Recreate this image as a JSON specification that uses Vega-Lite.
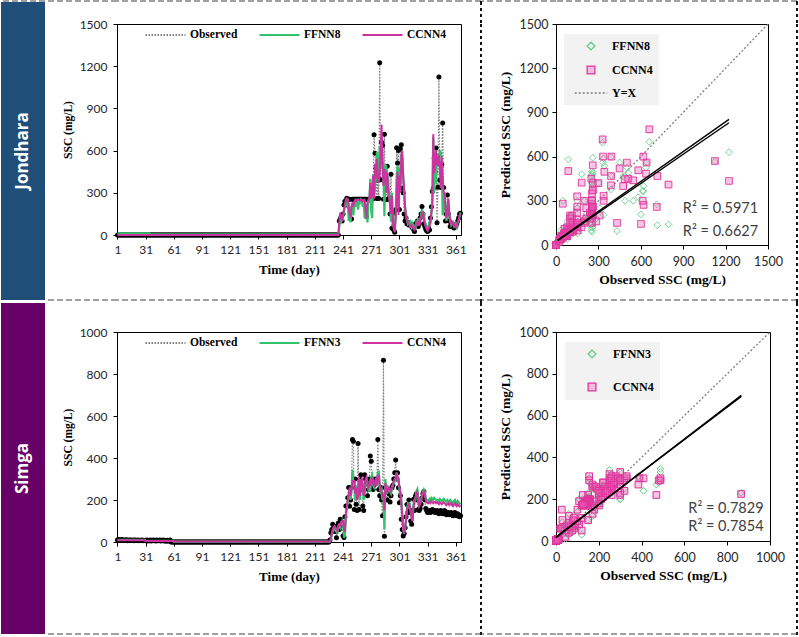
{
"$schema": "https://vega.github.io/schema/vega-lite/v6.json",
"padding": 0,
"background": "white",
"config": {
  "view": {"stroke": null},
  "axis": {"grid": false, "domainColor": "#000", "domainWidth": 1, "tickColor": "#000", "tickSize": 4, "labelFont": "Lato", "labelFontSize": 12, "labelColor": "#262626", "titleFont": "Liberation Serif", "titleFontWeight": "bold", "titleColor": "#000", "format": "d", "labelFlush": false, "labelOverlap": false}
},
"datasets": {
"yx1500": [{"x":0,"y":0},{"x":1500,"y":1500}],
"yx1000": [{"x":0,"y":0},{"x":1000,"y":1000}],
"jonTrend": [{"model":"FFNN8","x":12,"y":30},{"model":"FFNN8","x":1224,"y":830},{"model":"CCNN4","x":12,"y":34},{"model":"CCNN4","x":1224,"y":853}],
"simTrend": [{"model":"FFNN3","x":0,"y":20},{"model":"FFNN3","x":866,"y":692},{"model":"CCNN4","x":0,"y":16},{"model":"CCNN4","x":866,"y":697}],
"jon": [
{"day":1,"Observed":0,"FFNN8":12,"CCNN4":0},{"day":2,"Observed":0,"FFNN8":12,"CCNN4":0},{"day":3,"Observed":0,"FFNN8":12,"CCNN4":0},{"day":4,"Observed":0,"FFNN8":12,"CCNN4":0},{"day":5,"Observed":0,"FFNN8":12,"CCNN4":0},
{"day":6,"Observed":0,"FFNN8":12,"CCNN4":0},{"day":7,"Observed":0,"FFNN8":12,"CCNN4":0},{"day":8,"Observed":0,"FFNN8":12,"CCNN4":0},{"day":9,"Observed":0,"FFNN8":12,"CCNN4":0},{"day":10,"Observed":0,"FFNN8":12,"CCNN4":0},
{"day":11,"Observed":0,"FFNN8":12,"CCNN4":0},{"day":12,"Observed":0,"FFNN8":12,"CCNN4":0},{"day":13,"Observed":0,"FFNN8":12,"CCNN4":0},{"day":14,"Observed":0,"FFNN8":12,"CCNN4":0},{"day":15,"Observed":0,"FFNN8":12,"CCNN4":0},
{"day":16,"Observed":0,"FFNN8":12,"CCNN4":0},{"day":17,"Observed":0,"FFNN8":12,"CCNN4":0},{"day":18,"Observed":0,"FFNN8":12,"CCNN4":0},{"day":19,"Observed":0,"FFNN8":12,"CCNN4":0},{"day":20,"Observed":0,"FFNN8":12,"CCNN4":0},
{"day":21,"Observed":0,"FFNN8":12,"CCNN4":0},{"day":22,"Observed":0,"FFNN8":12,"CCNN4":0},{"day":23,"Observed":0,"FFNN8":12,"CCNN4":0},{"day":24,"Observed":0,"FFNN8":12,"CCNN4":0},{"day":25,"Observed":0,"FFNN8":12,"CCNN4":0},
{"day":26,"Observed":0,"FFNN8":12,"CCNN4":0},{"day":27,"Observed":0,"FFNN8":12,"CCNN4":0},{"day":28,"Observed":0,"FFNN8":12,"CCNN4":0},{"day":29,"Observed":0,"FFNN8":12,"CCNN4":0},{"day":30,"Observed":0,"FFNN8":12,"CCNN4":0},
{"day":31,"Observed":0,"FFNN8":12,"CCNN4":0},{"day":32,"Observed":0,"FFNN8":12,"CCNN4":0},{"day":33,"Observed":0,"FFNN8":12,"CCNN4":0},{"day":34,"Observed":0,"FFNN8":12,"CCNN4":0},{"day":35,"Observed":0,"FFNN8":12,"CCNN4":0},
{"day":36,"Observed":0,"FFNN8":4,"CCNN4":0},{"day":37,"Observed":0,"FFNN8":4,"CCNN4":0},{"day":38,"Observed":0,"FFNN8":4,"CCNN4":0},{"day":39,"Observed":0,"FFNN8":4,"CCNN4":0},{"day":40,"Observed":0,"FFNN8":4,"CCNN4":0},
{"day":41,"Observed":0,"FFNN8":4,"CCNN4":0},{"day":42,"Observed":0,"FFNN8":4,"CCNN4":0},{"day":43,"Observed":0,"FFNN8":4,"CCNN4":0},{"day":44,"Observed":0,"FFNN8":4,"CCNN4":0},{"day":45,"Observed":0,"FFNN8":4,"CCNN4":0},
{"day":46,"Observed":0,"FFNN8":4,"CCNN4":0},{"day":47,"Observed":0,"FFNN8":4,"CCNN4":0},{"day":48,"Observed":0,"FFNN8":4,"CCNN4":0},{"day":49,"Observed":0,"FFNN8":4,"CCNN4":0},{"day":50,"Observed":0,"FFNN8":4,"CCNN4":0},
{"day":51,"Observed":0,"FFNN8":4,"CCNN4":0},{"day":52,"Observed":0,"FFNN8":4,"CCNN4":0},{"day":53,"Observed":0,"FFNN8":4,"CCNN4":0},{"day":54,"Observed":0,"FFNN8":4,"CCNN4":0},{"day":55,"Observed":0,"FFNN8":4,"CCNN4":0},
{"day":56,"Observed":0,"FFNN8":4,"CCNN4":0},{"day":57,"Observed":0,"FFNN8":4,"CCNN4":0},{"day":58,"Observed":0,"FFNN8":4,"CCNN4":0},{"day":59,"Observed":0,"FFNN8":4,"CCNN4":0},{"day":60,"Observed":0,"FFNN8":4,"CCNN4":0},
{"day":61,"Observed":0,"FFNN8":4,"CCNN4":0},{"day":62,"Observed":0,"FFNN8":4,"CCNN4":0},{"day":63,"Observed":0,"FFNN8":4,"CCNN4":0},{"day":64,"Observed":0,"FFNN8":4,"CCNN4":0},{"day":65,"Observed":0,"FFNN8":4,"CCNN4":0},
{"day":66,"Observed":0,"FFNN8":4,"CCNN4":0},{"day":67,"Observed":0,"FFNN8":4,"CCNN4":0},{"day":68,"Observed":0,"FFNN8":4,"CCNN4":0},{"day":69,"Observed":0,"FFNN8":4,"CCNN4":0},{"day":70,"Observed":0,"FFNN8":4,"CCNN4":0},
{"day":71,"Observed":0,"FFNN8":4,"CCNN4":0},{"day":72,"Observed":0,"FFNN8":4,"CCNN4":0},{"day":73,"Observed":0,"FFNN8":4,"CCNN4":0},{"day":74,"Observed":0,"FFNN8":4,"CCNN4":0},{"day":75,"Observed":0,"FFNN8":4,"CCNN4":0},
{"day":76,"Observed":0,"FFNN8":4,"CCNN4":0},{"day":77,"Observed":0,"FFNN8":4,"CCNN4":0},{"day":78,"Observed":0,"FFNN8":4,"CCNN4":0},{"day":79,"Observed":0,"FFNN8":4,"CCNN4":0},{"day":80,"Observed":0,"FFNN8":4,"CCNN4":0},
{"day":81,"Observed":0,"FFNN8":4,"CCNN4":0},{"day":82,"Observed":0,"FFNN8":4,"CCNN4":0},{"day":83,"Observed":0,"FFNN8":4,"CCNN4":0},{"day":84,"Observed":0,"FFNN8":4,"CCNN4":0},{"day":85,"Observed":0,"FFNN8":4,"CCNN4":0},
{"day":86,"Observed":0,"FFNN8":4,"CCNN4":0},{"day":87,"Observed":0,"FFNN8":4,"CCNN4":0},{"day":88,"Observed":0,"FFNN8":4,"CCNN4":0},{"day":89,"Observed":0,"FFNN8":4,"CCNN4":0},{"day":90,"Observed":0,"FFNN8":4,"CCNN4":0},
{"day":91,"Observed":0,"FFNN8":4,"CCNN4":0},{"day":92,"Observed":0,"FFNN8":4,"CCNN4":0},{"day":93,"Observed":0,"FFNN8":4,"CCNN4":0},{"day":94,"Observed":0,"FFNN8":4,"CCNN4":0},{"day":95,"Observed":0,"FFNN8":4,"CCNN4":0},
{"day":96,"Observed":0,"FFNN8":4,"CCNN4":0},{"day":97,"Observed":0,"FFNN8":4,"CCNN4":0},{"day":98,"Observed":0,"FFNN8":4,"CCNN4":0},{"day":99,"Observed":0,"FFNN8":4,"CCNN4":0},{"day":100,"Observed":0,"FFNN8":4,"CCNN4":0},
{"day":101,"Observed":0,"FFNN8":4,"CCNN4":0},{"day":102,"Observed":0,"FFNN8":4,"CCNN4":0},{"day":103,"Observed":0,"FFNN8":4,"CCNN4":0},{"day":104,"Observed":0,"FFNN8":4,"CCNN4":0},{"day":105,"Observed":0,"FFNN8":4,"CCNN4":0},
{"day":106,"Observed":0,"FFNN8":4,"CCNN4":0},{"day":107,"Observed":0,"FFNN8":4,"CCNN4":0},{"day":108,"Observed":0,"FFNN8":4,"CCNN4":0},{"day":109,"Observed":0,"FFNN8":4,"CCNN4":0},{"day":110,"Observed":0,"FFNN8":4,"CCNN4":0},
{"day":111,"Observed":0,"FFNN8":4,"CCNN4":0},{"day":112,"Observed":0,"FFNN8":4,"CCNN4":0},{"day":113,"Observed":0,"FFNN8":4,"CCNN4":0},{"day":114,"Observed":0,"FFNN8":4,"CCNN4":0},{"day":115,"Observed":0,"FFNN8":4,"CCNN4":0},
{"day":116,"Observed":0,"FFNN8":4,"CCNN4":0},{"day":117,"Observed":0,"FFNN8":4,"CCNN4":0},{"day":118,"Observed":0,"FFNN8":4,"CCNN4":0},{"day":119,"Observed":0,"FFNN8":4,"CCNN4":0},{"day":120,"Observed":0,"FFNN8":4,"CCNN4":0},
{"day":121,"Observed":0,"FFNN8":4,"CCNN4":0},{"day":122,"Observed":0,"FFNN8":4,"CCNN4":0},{"day":123,"Observed":0,"FFNN8":4,"CCNN4":0},{"day":124,"Observed":0,"FFNN8":4,"CCNN4":0},{"day":125,"Observed":0,"FFNN8":4,"CCNN4":0},
{"day":126,"Observed":0,"FFNN8":4,"CCNN4":0},{"day":127,"Observed":0,"FFNN8":4,"CCNN4":0},{"day":128,"Observed":0,"FFNN8":4,"CCNN4":0},{"day":129,"Observed":0,"FFNN8":4,"CCNN4":0},{"day":130,"Observed":0,"FFNN8":4,"CCNN4":0},
{"day":131,"Observed":0,"FFNN8":4,"CCNN4":0},{"day":132,"Observed":0,"FFNN8":4,"CCNN4":0},{"day":133,"Observed":0,"FFNN8":4,"CCNN4":0},{"day":134,"Observed":0,"FFNN8":4,"CCNN4":0},{"day":135,"Observed":0,"FFNN8":4,"CCNN4":0},
{"day":136,"Observed":0,"FFNN8":4,"CCNN4":0},{"day":137,"Observed":0,"FFNN8":4,"CCNN4":0},{"day":138,"Observed":0,"FFNN8":4,"CCNN4":0},{"day":139,"Observed":0,"FFNN8":4,"CCNN4":0},{"day":140,"Observed":0,"FFNN8":4,"CCNN4":0},
{"day":141,"Observed":0,"FFNN8":4,"CCNN4":0},{"day":142,"Observed":0,"FFNN8":4,"CCNN4":0},{"day":143,"Observed":0,"FFNN8":4,"CCNN4":0},{"day":144,"Observed":0,"FFNN8":4,"CCNN4":0},{"day":145,"Observed":0,"FFNN8":4,"CCNN4":0},
{"day":146,"Observed":0,"FFNN8":4,"CCNN4":0},{"day":147,"Observed":0,"FFNN8":4,"CCNN4":0},{"day":148,"Observed":0,"FFNN8":4,"CCNN4":0},{"day":149,"Observed":0,"FFNN8":4,"CCNN4":0},{"day":150,"Observed":0,"FFNN8":4,"CCNN4":0},
{"day":151,"Observed":0,"FFNN8":4,"CCNN4":0},{"day":152,"Observed":0,"FFNN8":4,"CCNN4":0},{"day":153,"Observed":0,"FFNN8":4,"CCNN4":0},{"day":154,"Observed":0,"FFNN8":4,"CCNN4":0},{"day":155,"Observed":0,"FFNN8":4,"CCNN4":0},
{"day":156,"Observed":0,"FFNN8":4,"CCNN4":0},{"day":157,"Observed":0,"FFNN8":4,"CCNN4":0},{"day":158,"Observed":0,"FFNN8":4,"CCNN4":0},{"day":159,"Observed":0,"FFNN8":4,"CCNN4":0},{"day":160,"Observed":0,"FFNN8":4,"CCNN4":0},
{"day":161,"Observed":0,"FFNN8":4,"CCNN4":0},{"day":162,"Observed":0,"FFNN8":4,"CCNN4":0},{"day":163,"Observed":0,"FFNN8":4,"CCNN4":0},{"day":164,"Observed":0,"FFNN8":4,"CCNN4":0},{"day":165,"Observed":0,"FFNN8":4,"CCNN4":0},
{"day":166,"Observed":0,"FFNN8":4,"CCNN4":0},{"day":167,"Observed":0,"FFNN8":4,"CCNN4":0},{"day":168,"Observed":0,"FFNN8":4,"CCNN4":0},{"day":169,"Observed":0,"FFNN8":4,"CCNN4":0},{"day":170,"Observed":0,"FFNN8":4,"CCNN4":0},
{"day":171,"Observed":0,"FFNN8":4,"CCNN4":0},{"day":172,"Observed":0,"FFNN8":4,"CCNN4":0},{"day":173,"Observed":0,"FFNN8":4,"CCNN4":0},{"day":174,"Observed":0,"FFNN8":4,"CCNN4":0},{"day":175,"Observed":0,"FFNN8":4,"CCNN4":0},
{"day":176,"Observed":0,"FFNN8":4,"CCNN4":0},{"day":177,"Observed":0,"FFNN8":4,"CCNN4":0},{"day":178,"Observed":0,"FFNN8":4,"CCNN4":0},{"day":179,"Observed":0,"FFNN8":4,"CCNN4":0},{"day":180,"Observed":0,"FFNN8":4,"CCNN4":0},
{"day":181,"Observed":0,"FFNN8":4,"CCNN4":0},{"day":182,"Observed":0,"FFNN8":4,"CCNN4":0},{"day":183,"Observed":0,"FFNN8":4,"CCNN4":0},{"day":184,"Observed":0,"FFNN8":4,"CCNN4":0},{"day":185,"Observed":0,"FFNN8":4,"CCNN4":0},
{"day":186,"Observed":0,"FFNN8":4,"CCNN4":0},{"day":187,"Observed":0,"FFNN8":4,"CCNN4":0},{"day":188,"Observed":0,"FFNN8":4,"CCNN4":0},{"day":189,"Observed":0,"FFNN8":4,"CCNN4":0},{"day":190,"Observed":0,"FFNN8":4,"CCNN4":0},
{"day":191,"Observed":0,"FFNN8":4,"CCNN4":0},{"day":192,"Observed":0,"FFNN8":4,"CCNN4":0},{"day":193,"Observed":0,"FFNN8":4,"CCNN4":0},{"day":194,"Observed":0,"FFNN8":4,"CCNN4":0},{"day":195,"Observed":0,"FFNN8":4,"CCNN4":0},
{"day":196,"Observed":0,"FFNN8":4,"CCNN4":0},{"day":197,"Observed":0,"FFNN8":4,"CCNN4":0},{"day":198,"Observed":0,"FFNN8":4,"CCNN4":0},{"day":199,"Observed":0,"FFNN8":4,"CCNN4":0},{"day":200,"Observed":0,"FFNN8":4,"CCNN4":0},
{"day":201,"Observed":0,"FFNN8":4,"CCNN4":0},{"day":202,"Observed":0,"FFNN8":4,"CCNN4":0},{"day":203,"Observed":0,"FFNN8":4,"CCNN4":0},{"day":204,"Observed":0,"FFNN8":4,"CCNN4":0},{"day":205,"Observed":0,"FFNN8":4,"CCNN4":0},
{"day":206,"Observed":0,"FFNN8":4,"CCNN4":0},{"day":207,"Observed":0,"FFNN8":4,"CCNN4":0},{"day":208,"Observed":0,"FFNN8":4,"CCNN4":0},{"day":209,"Observed":0,"FFNN8":4,"CCNN4":0},{"day":210,"Observed":0,"FFNN8":4,"CCNN4":0},
{"day":211,"Observed":0,"FFNN8":4,"CCNN4":0},{"day":212,"Observed":0,"FFNN8":4,"CCNN4":0},{"day":213,"Observed":0,"FFNN8":4,"CCNN4":0},{"day":214,"Observed":0,"FFNN8":4,"CCNN4":0},{"day":215,"Observed":0,"FFNN8":4,"CCNN4":0},
{"day":216,"Observed":0,"FFNN8":4,"CCNN4":0},{"day":217,"Observed":0,"FFNN8":4,"CCNN4":0},{"day":218,"Observed":0,"FFNN8":4,"CCNN4":0},{"day":219,"Observed":0,"FFNN8":4,"CCNN4":0},{"day":220,"Observed":0,"FFNN8":4,"CCNN4":0},
{"day":221,"Observed":0,"FFNN8":4,"CCNN4":0},{"day":222,"Observed":0,"FFNN8":4,"CCNN4":0},{"day":223,"Observed":0,"FFNN8":4,"CCNN4":0},{"day":224,"Observed":0,"FFNN8":4,"CCNN4":0},{"day":225,"Observed":0,"FFNN8":4,"CCNN4":0},
{"day":226,"Observed":0,"FFNN8":4,"CCNN4":0},{"day":227,"Observed":0,"FFNN8":4,"CCNN4":0},{"day":228,"Observed":0,"FFNN8":4,"CCNN4":0},{"day":229,"Observed":0,"FFNN8":4,"CCNN4":0},{"day":230,"Observed":0,"FFNN8":4,"CCNN4":0},
{"day":231,"Observed":0,"FFNN8":4,"CCNN4":0},{"day":232,"Observed":0,"FFNN8":4,"CCNN4":0},{"day":233,"Observed":0,"FFNN8":4,"CCNN4":0},{"day":234,"Observed":0,"FFNN8":4,"CCNN4":0},{"day":235,"Observed":0,"FFNN8":4,"CCNN4":0},
{"day":236,"Observed":0,"FFNN8":4,"CCNN4":0},{"day":237,"Observed":100,"FFNN8":60,"CCNN4":90},{"day":238,"Observed":114,"FFNN8":110,"CCNN4":160},{"day":239,"Observed":130,"FFNN8":100,"CCNN4":120},{"day":240,"Observed":100,"FFNN8":130,"CCNN4":110},
{"day":241,"Observed":150,"FFNN8":120,"CCNN4":140},{"day":242,"Observed":214,"FFNN8":170,"CCNN4":180},{"day":243,"Observed":240,"FFNN8":200,"CCNN4":220},{"day":244,"Observed":214,"FFNN8":210,"CCNN4":250},{"day":245,"Observed":261,"FFNN8":230,"CCNN4":260},
{"day":246,"Observed":255,"FFNN8":240,"CCNN4":250},{"day":247,"Observed":250,"FFNN8":100,"CCNN4":210},{"day":248,"Observed":255,"FFNN8":180,"CCNN4":150},{"day":249,"Observed":114,"FFNN8":90,"CCNN4":120},{"day":250,"Observed":114,"FFNN8":200,"CCNN4":200},
{"day":251,"Observed":255,"FFNN8":220,"CCNN4":230},{"day":252,"Observed":255,"FFNN8":140,"CCNN4":200},{"day":253,"Observed":255,"FFNN8":230,"CCNN4":240},{"day":254,"Observed":255,"FFNN8":200,"CCNN4":250},{"day":255,"Observed":255,"FFNN8":230,"CCNN4":240},
{"day":256,"Observed":255,"FFNN8":240,"CCNN4":250},{"day":257,"Observed":255,"FFNN8":180,"CCNN4":250},{"day":258,"Observed":255,"FFNN8":240,"CCNN4":250},{"day":259,"Observed":255,"FFNN8":230,"CCNN4":245},{"day":260,"Observed":255,"FFNN8":250,"CCNN4":250},
{"day":261,"Observed":255,"FFNN8":240,"CCNN4":250},{"day":262,"Observed":255,"FFNN8":200,"CCNN4":240},{"day":263,"Observed":255,"FFNN8":230,"CCNN4":250},{"day":264,"Observed":255,"FFNN8":120,"CCNN4":250},{"day":265,"Observed":255,"FFNN8":150,"CCNN4":180},
{"day":266,"Observed":131,"FFNN8":140,"CCNN4":120},{"day":267,"Observed":255,"FFNN8":90,"CCNN4":230},{"day":268,"Observed":255,"FFNN8":250,"CCNN4":250},{"day":269,"Observed":255,"FFNN8":230,"CCNN4":260},{"day":270,"Observed":260,"FFNN8":400,"CCNN4":371},
{"day":271,"Observed":255,"FFNN8":170,"CCNN4":260},{"day":272,"Observed":255,"FFNN8":120,"CCNN4":280},{"day":273,"Observed":260,"FFNN8":434,"CCNN4":423},{"day":274,"Observed":713,"FFNN8":276,"CCNN4":258},{"day":275,"Observed":582,"FFNN8":325,"CCNN4":507},
{"day":276,"Observed":475,"FFNN8":468,"CCNN4":400},{"day":277,"Observed":260,"FFNN8":592,"CCNN4":541},{"day":278,"Observed":389,"FFNN8":378,"CCNN4":405},{"day":279,"Observed":260,"FFNN8":490,"CCNN4":371},{"day":280,"Observed":1224,"FFNN8":630,"CCNN4":435},
{"day":281,"Observed":392,"FFNN8":470,"CCNN4":600},{"day":282,"Observed":660,"FFNN8":700,"CCNN4":785},{"day":283,"Observed":637,"FFNN8":525,"CCNN4":484},{"day":284,"Observed":255,"FFNN8":480,"CCNN4":350},{"day":285,"Observed":717,"FFNN8":134,"CCNN4":468},
{"day":286,"Observed":250,"FFNN8":470,"CCNN4":450},{"day":287,"Observed":255,"FFNN8":500,"CCNN4":300},{"day":288,"Observed":488,"FFNN8":300,"CCNN4":446},{"day":289,"Observed":255,"FFNN8":420,"CCNN4":300},{"day":290,"Observed":261,"FFNN8":280,"CCNN4":260},
{"day":291,"Observed":150,"FFNN8":250,"CCNN4":220},{"day":292,"Observed":432,"FFNN8":95,"CCNN4":150},{"day":293,"Observed":48,"FFNN8":300,"CCNN4":280},{"day":294,"Observed":154,"FFNN8":80,"CCNN4":100},{"day":295,"Observed":36,"FFNN8":60,"CCNN4":40},
{"day":296,"Observed":20,"FFNN8":30,"CCNN4":20},{"day":297,"Observed":180,"FFNN8":150,"CCNN4":120},{"day":298,"Observed":620,"FFNN8":400,"CCNN4":272},{"day":299,"Observed":511,"FFNN8":490,"CCNN4":450},{"day":300,"Observed":601,"FFNN8":208,"CCNN4":143},
{"day":301,"Observed":182,"FFNN8":480,"CCNN4":423},{"day":302,"Observed":613,"FFNN8":366,"CCNN4":300},{"day":303,"Observed":641,"FFNN8":560,"CCNN4":560},{"day":304,"Observed":333,"FFNN8":560,"CCNN4":600},{"day":305,"Observed":300,"FFNN8":420,"CCNN4":420},
{"day":306,"Observed":150,"FFNN8":300,"CCNN4":330},{"day":307,"Observed":100,"FFNN8":200,"CCNN4":200},{"day":308,"Observed":120,"FFNN8":150,"CCNN4":140},{"day":309,"Observed":80,"FFNN8":110,"CCNN4":100},{"day":310,"Observed":90,"FFNN8":80,"CCNN4":90},
{"day":311,"Observed":71,"FFNN8":90,"CCNN4":80},{"day":312,"Observed":80,"FFNN8":70,"CCNN4":75},{"day":313,"Observed":70,"FFNN8":90,"CCNN4":60},{"day":314,"Observed":60,"FFNN8":60,"CCNN4":70},{"day":315,"Observed":50,"FFNN8":80,"CCNN4":60},
{"day":316,"Observed":40,"FFNN8":50,"CCNN4":50},{"day":317,"Observed":24,"FFNN8":60,"CCNN4":40},{"day":318,"Observed":80,"FFNN8":40,"CCNN4":60},{"day":319,"Observed":70,"FFNN8":90,"CCNN4":70},{"day":320,"Observed":100,"FFNN8":80,"CCNN4":90},
{"day":321,"Observed":60,"FFNN8":120,"CCNN4":80},{"day":322,"Observed":80,"FFNN8":70,"CCNN4":100},{"day":323,"Observed":120,"FFNN8":100,"CCNN4":90},{"day":324,"Observed":150,"FFNN8":140,"CCNN4":130},{"day":325,"Observed":202,"FFNN8":180,"CCNN4":150},
{"day":326,"Observed":150,"FFNN8":130,"CCNN4":170},{"day":327,"Observed":80,"FFNN8":160,"CCNN4":120},{"day":328,"Observed":60,"FFNN8":90,"CCNN4":80},{"day":329,"Observed":40,"FFNN8":70,"CCNN4":60},{"day":330,"Observed":30,"FFNN8":50,"CCNN4":40},
{"day":331,"Observed":24,"FFNN8":40,"CCNN4":30},{"day":332,"Observed":50,"FFNN8":60,"CCNN4":50},{"day":333,"Observed":36,"FFNN8":100,"CCNN4":60},{"day":334,"Observed":120,"FFNN8":80,"CCNN4":100},{"day":335,"Observed":200,"FFNN8":150,"CCNN4":160},
{"day":336,"Observed":309,"FFNN8":250,"CCNN4":200},{"day":337,"Observed":330,"FFNN8":694,"CCNN4":717},{"day":338,"Observed":546,"FFNN8":300,"CCNN4":439},{"day":339,"Observed":450,"FFNN8":560,"CCNN4":520},{"day":340,"Observed":618,"FFNN8":366,"CCNN4":600},
{"day":341,"Observed":87,"FFNN8":581,"CCNN4":502},{"day":342,"Observed":342,"FFNN8":536,"CCNN4":497},{"day":343,"Observed":1124,"FFNN8":565,"CCNN4":570},{"day":344,"Observed":389,"FFNN8":597,"CCNN4":468},{"day":345,"Observed":337,"FFNN8":588,"CCNN4":333},
{"day":346,"Observed":502,"FFNN8":525,"CCNN4":559},{"day":347,"Observed":796,"FFNN8":140,"CCNN4":410},{"day":348,"Observed":337,"FFNN8":205,"CCNN4":300},{"day":349,"Observed":200,"FFNN8":300,"CCNN4":300},{"day":350,"Observed":100,"FFNN8":200,"CCNN4":180},
{"day":351,"Observed":150,"FFNN8":100,"CCNN4":120},{"day":352,"Observed":285,"FFNN8":180,"CCNN4":160},{"day":353,"Observed":150,"FFNN8":250,"CCNN4":260},{"day":354,"Observed":100,"FFNN8":150,"CCNN4":150},{"day":355,"Observed":60,"FFNN8":100,"CCNN4":110},
{"day":356,"Observed":80,"FFNN8":70,"CCNN4":80},{"day":357,"Observed":83,"FFNN8":80,"CCNN4":90},{"day":358,"Observed":60,"FFNN8":90,"CCNN4":80},{"day":359,"Observed":50,"FFNN8":70,"CCNN4":60},{"day":360,"Observed":70,"FFNN8":60,"CCNN4":70},
{"day":361,"Observed":60,"FFNN8":80,"CCNN4":60},{"day":362,"Observed":80,"FFNN8":60,"CCNN4":80},{"day":363,"Observed":100,"FFNN8":90,"CCNN4":90},{"day":364,"Observed":120,"FFNN8":100,"CCNN4":110},{"day":365,"Observed":150,"FFNN8":130,"CCNN4":140},
{"day":366,"Observed":154,"FFNN8":160,"CCNN4":150}
],
"sim": [
{"day":1,"Observed":10,"FFNN3":10,"CCNN4":8},{"day":2,"Observed":12,"FFNN3":10,"CCNN4":8},{"day":3,"Observed":8,"FFNN3":10,"CCNN4":8},{"day":4,"Observed":11,"FFNN3":10,"CCNN4":8},{"day":5,"Observed":9,"FFNN3":10,"CCNN4":8},
{"day":6,"Observed":12,"FFNN3":10,"CCNN4":8},{"day":7,"Observed":7,"FFNN3":10,"CCNN4":8},{"day":8,"Observed":10,"FFNN3":10,"CCNN4":8},{"day":9,"Observed":8,"FFNN3":10,"CCNN4":8},{"day":10,"Observed":9,"FFNN3":10,"CCNN4":8},
{"day":11,"Observed":11,"FFNN3":10,"CCNN4":8},{"day":12,"Observed":6,"FFNN3":10,"CCNN4":8},{"day":13,"Observed":8,"FFNN3":10,"CCNN4":8},{"day":14,"Observed":10,"FFNN3":10,"CCNN4":8},{"day":15,"Observed":9,"FFNN3":10,"CCNN4":8},
{"day":16,"Observed":7,"FFNN3":10,"CCNN4":8},{"day":17,"Observed":8,"FFNN3":10,"CCNN4":8},{"day":18,"Observed":10,"FFNN3":10,"CCNN4":8},{"day":19,"Observed":6,"FFNN3":10,"CCNN4":8},{"day":20,"Observed":9,"FFNN3":10,"CCNN4":8},
{"day":21,"Observed":8,"FFNN3":10,"CCNN4":8},{"day":22,"Observed":7,"FFNN3":10,"CCNN4":8},{"day":23,"Observed":9,"FFNN3":10,"CCNN4":8},{"day":24,"Observed":6,"FFNN3":10,"CCNN4":8},{"day":25,"Observed":8,"FFNN3":10,"CCNN4":8},
{"day":26,"Observed":7,"FFNN3":10,"CCNN4":8},{"day":27,"Observed":9,"FFNN3":10,"CCNN4":8},{"day":28,"Observed":6,"FFNN3":10,"CCNN4":8},{"day":29,"Observed":8,"FFNN3":10,"CCNN4":8},{"day":30,"Observed":7,"FFNN3":10,"CCNN4":8},
{"day":31,"Observed":6,"FFNN3":6,"CCNN4":5},{"day":32,"Observed":9,"FFNN3":6,"CCNN4":5},{"day":33,"Observed":5,"FFNN3":6,"CCNN4":5},{"day":34,"Observed":8,"FFNN3":6,"CCNN4":5},{"day":35,"Observed":6,"FFNN3":6,"CCNN4":5},
{"day":36,"Observed":9,"FFNN3":6,"CCNN4":5},{"day":37,"Observed":5,"FFNN3":6,"CCNN4":5},{"day":38,"Observed":7,"FFNN3":6,"CCNN4":5},{"day":39,"Observed":10,"FFNN3":6,"CCNN4":5},{"day":40,"Observed":6,"FFNN3":6,"CCNN4":5},
{"day":41,"Observed":8,"FFNN3":6,"CCNN4":5},{"day":42,"Observed":5,"FFNN3":6,"CCNN4":5},{"day":43,"Observed":9,"FFNN3":6,"CCNN4":5},{"day":44,"Observed":6,"FFNN3":6,"CCNN4":5},{"day":45,"Observed":7,"FFNN3":6,"CCNN4":5},
{"day":46,"Observed":10,"FFNN3":6,"CCNN4":5},{"day":47,"Observed":5,"FFNN3":6,"CCNN4":5},{"day":48,"Observed":8,"FFNN3":6,"CCNN4":5},{"day":49,"Observed":6,"FFNN3":6,"CCNN4":5},{"day":50,"Observed":9,"FFNN3":6,"CCNN4":5},
{"day":51,"Observed":5,"FFNN3":6,"CCNN4":5},{"day":52,"Observed":7,"FFNN3":6,"CCNN4":5},{"day":53,"Observed":4,"FFNN3":6,"CCNN4":5},{"day":54,"Observed":8,"FFNN3":6,"CCNN4":5},{"day":55,"Observed":5,"FFNN3":6,"CCNN4":5},
{"day":56,"Observed":6,"FFNN3":6,"CCNN4":5},{"day":57,"Observed":9,"FFNN3":6,"CCNN4":5},{"day":58,"Observed":0,"FFNN3":6,"CCNN4":5},{"day":59,"Observed":0,"FFNN3":6,"CCNN4":5},{"day":60,"Observed":0,"FFNN3":6,"CCNN4":5},
{"day":61,"Observed":0,"FFNN3":2,"CCNN4":2},{"day":62,"Observed":0,"FFNN3":2,"CCNN4":2},{"day":63,"Observed":0,"FFNN3":2,"CCNN4":2},{"day":64,"Observed":0,"FFNN3":2,"CCNN4":2},{"day":65,"Observed":0,"FFNN3":2,"CCNN4":2},
{"day":66,"Observed":0,"FFNN3":2,"CCNN4":2},{"day":67,"Observed":0,"FFNN3":2,"CCNN4":2},{"day":68,"Observed":0,"FFNN3":2,"CCNN4":2},{"day":69,"Observed":0,"FFNN3":2,"CCNN4":2},{"day":70,"Observed":0,"FFNN3":2,"CCNN4":2},
{"day":71,"Observed":0,"FFNN3":2,"CCNN4":2},{"day":72,"Observed":0,"FFNN3":2,"CCNN4":2},{"day":73,"Observed":0,"FFNN3":2,"CCNN4":2},{"day":74,"Observed":0,"FFNN3":2,"CCNN4":2},{"day":75,"Observed":0,"FFNN3":2,"CCNN4":2},
{"day":76,"Observed":0,"FFNN3":2,"CCNN4":2},{"day":77,"Observed":0,"FFNN3":2,"CCNN4":2},{"day":78,"Observed":0,"FFNN3":2,"CCNN4":2},{"day":79,"Observed":0,"FFNN3":2,"CCNN4":2},{"day":80,"Observed":0,"FFNN3":2,"CCNN4":2},
{"day":81,"Observed":0,"FFNN3":2,"CCNN4":2},{"day":82,"Observed":0,"FFNN3":2,"CCNN4":2},{"day":83,"Observed":0,"FFNN3":2,"CCNN4":2},{"day":84,"Observed":0,"FFNN3":2,"CCNN4":2},{"day":85,"Observed":0,"FFNN3":2,"CCNN4":2},
{"day":86,"Observed":0,"FFNN3":2,"CCNN4":2},{"day":87,"Observed":0,"FFNN3":2,"CCNN4":2},{"day":88,"Observed":0,"FFNN3":2,"CCNN4":2},{"day":89,"Observed":0,"FFNN3":2,"CCNN4":2},{"day":90,"Observed":0,"FFNN3":2,"CCNN4":2},
{"day":91,"Observed":0,"FFNN3":2,"CCNN4":2},{"day":92,"Observed":0,"FFNN3":2,"CCNN4":2},{"day":93,"Observed":0,"FFNN3":2,"CCNN4":2},{"day":94,"Observed":0,"FFNN3":2,"CCNN4":2},{"day":95,"Observed":0,"FFNN3":2,"CCNN4":2},
{"day":96,"Observed":0,"FFNN3":2,"CCNN4":2},{"day":97,"Observed":0,"FFNN3":2,"CCNN4":2},{"day":98,"Observed":0,"FFNN3":2,"CCNN4":2},{"day":99,"Observed":0,"FFNN3":2,"CCNN4":2},{"day":100,"Observed":0,"FFNN3":2,"CCNN4":2},
{"day":101,"Observed":0,"FFNN3":2,"CCNN4":2},{"day":102,"Observed":0,"FFNN3":2,"CCNN4":2},{"day":103,"Observed":0,"FFNN3":2,"CCNN4":2},{"day":104,"Observed":0,"FFNN3":2,"CCNN4":2},{"day":105,"Observed":0,"FFNN3":2,"CCNN4":2},
{"day":106,"Observed":0,"FFNN3":2,"CCNN4":2},{"day":107,"Observed":0,"FFNN3":2,"CCNN4":2},{"day":108,"Observed":0,"FFNN3":2,"CCNN4":2},{"day":109,"Observed":0,"FFNN3":2,"CCNN4":2},{"day":110,"Observed":0,"FFNN3":2,"CCNN4":2},
{"day":111,"Observed":0,"FFNN3":2,"CCNN4":2},{"day":112,"Observed":0,"FFNN3":2,"CCNN4":2},{"day":113,"Observed":0,"FFNN3":2,"CCNN4":2},{"day":114,"Observed":0,"FFNN3":2,"CCNN4":2},{"day":115,"Observed":0,"FFNN3":2,"CCNN4":2},
{"day":116,"Observed":0,"FFNN3":2,"CCNN4":2},{"day":117,"Observed":0,"FFNN3":2,"CCNN4":2},{"day":118,"Observed":0,"FFNN3":2,"CCNN4":2},{"day":119,"Observed":0,"FFNN3":2,"CCNN4":2},{"day":120,"Observed":0,"FFNN3":2,"CCNN4":2},
{"day":121,"Observed":0,"FFNN3":2,"CCNN4":2},{"day":122,"Observed":0,"FFNN3":2,"CCNN4":2},{"day":123,"Observed":0,"FFNN3":2,"CCNN4":2},{"day":124,"Observed":0,"FFNN3":2,"CCNN4":2},{"day":125,"Observed":0,"FFNN3":2,"CCNN4":2},
{"day":126,"Observed":0,"FFNN3":2,"CCNN4":2},{"day":127,"Observed":0,"FFNN3":2,"CCNN4":2},{"day":128,"Observed":0,"FFNN3":2,"CCNN4":2},{"day":129,"Observed":0,"FFNN3":2,"CCNN4":2},{"day":130,"Observed":0,"FFNN3":2,"CCNN4":2},
{"day":131,"Observed":0,"FFNN3":2,"CCNN4":2},{"day":132,"Observed":0,"FFNN3":2,"CCNN4":2},{"day":133,"Observed":0,"FFNN3":2,"CCNN4":2},{"day":134,"Observed":0,"FFNN3":2,"CCNN4":2},{"day":135,"Observed":0,"FFNN3":2,"CCNN4":2},
{"day":136,"Observed":0,"FFNN3":2,"CCNN4":2},{"day":137,"Observed":0,"FFNN3":2,"CCNN4":2},{"day":138,"Observed":0,"FFNN3":2,"CCNN4":2},{"day":139,"Observed":0,"FFNN3":2,"CCNN4":2},{"day":140,"Observed":0,"FFNN3":2,"CCNN4":2},
{"day":141,"Observed":0,"FFNN3":2,"CCNN4":2},{"day":142,"Observed":0,"FFNN3":2,"CCNN4":2},{"day":143,"Observed":0,"FFNN3":2,"CCNN4":2},{"day":144,"Observed":0,"FFNN3":2,"CCNN4":2},{"day":145,"Observed":0,"FFNN3":2,"CCNN4":2},
{"day":146,"Observed":0,"FFNN3":2,"CCNN4":2},{"day":147,"Observed":0,"FFNN3":2,"CCNN4":2},{"day":148,"Observed":0,"FFNN3":2,"CCNN4":2},{"day":149,"Observed":0,"FFNN3":2,"CCNN4":2},{"day":150,"Observed":0,"FFNN3":2,"CCNN4":2},
{"day":151,"Observed":0,"FFNN3":2,"CCNN4":2},{"day":152,"Observed":0,"FFNN3":2,"CCNN4":2},{"day":153,"Observed":0,"FFNN3":2,"CCNN4":2},{"day":154,"Observed":0,"FFNN3":2,"CCNN4":2},{"day":155,"Observed":0,"FFNN3":2,"CCNN4":2},
{"day":156,"Observed":0,"FFNN3":2,"CCNN4":2},{"day":157,"Observed":0,"FFNN3":2,"CCNN4":2},{"day":158,"Observed":0,"FFNN3":2,"CCNN4":2},{"day":159,"Observed":0,"FFNN3":2,"CCNN4":2},{"day":160,"Observed":0,"FFNN3":2,"CCNN4":2},
{"day":161,"Observed":0,"FFNN3":2,"CCNN4":2},{"day":162,"Observed":0,"FFNN3":2,"CCNN4":2},{"day":163,"Observed":0,"FFNN3":2,"CCNN4":2},{"day":164,"Observed":0,"FFNN3":2,"CCNN4":2},{"day":165,"Observed":0,"FFNN3":2,"CCNN4":2},
{"day":166,"Observed":0,"FFNN3":2,"CCNN4":2},{"day":167,"Observed":0,"FFNN3":2,"CCNN4":2},{"day":168,"Observed":0,"FFNN3":2,"CCNN4":2},{"day":169,"Observed":0,"FFNN3":2,"CCNN4":2},{"day":170,"Observed":0,"FFNN3":2,"CCNN4":2},
{"day":171,"Observed":0,"FFNN3":2,"CCNN4":2},{"day":172,"Observed":0,"FFNN3":2,"CCNN4":2},{"day":173,"Observed":0,"FFNN3":2,"CCNN4":2},{"day":174,"Observed":0,"FFNN3":2,"CCNN4":2},{"day":175,"Observed":0,"FFNN3":2,"CCNN4":2},
{"day":176,"Observed":0,"FFNN3":2,"CCNN4":2},{"day":177,"Observed":0,"FFNN3":2,"CCNN4":2},{"day":178,"Observed":0,"FFNN3":2,"CCNN4":2},{"day":179,"Observed":0,"FFNN3":2,"CCNN4":2},{"day":180,"Observed":0,"FFNN3":2,"CCNN4":2},
{"day":181,"Observed":0,"FFNN3":2,"CCNN4":2},{"day":182,"Observed":0,"FFNN3":2,"CCNN4":2},{"day":183,"Observed":0,"FFNN3":2,"CCNN4":2},{"day":184,"Observed":0,"FFNN3":2,"CCNN4":2},{"day":185,"Observed":0,"FFNN3":2,"CCNN4":2},
{"day":186,"Observed":0,"FFNN3":2,"CCNN4":2},{"day":187,"Observed":0,"FFNN3":2,"CCNN4":2},{"day":188,"Observed":0,"FFNN3":2,"CCNN4":2},{"day":189,"Observed":0,"FFNN3":2,"CCNN4":2},{"day":190,"Observed":0,"FFNN3":2,"CCNN4":2},
{"day":191,"Observed":0,"FFNN3":2,"CCNN4":2},{"day":192,"Observed":0,"FFNN3":2,"CCNN4":2},{"day":193,"Observed":0,"FFNN3":2,"CCNN4":2},{"day":194,"Observed":0,"FFNN3":2,"CCNN4":2},{"day":195,"Observed":0,"FFNN3":2,"CCNN4":2},
{"day":196,"Observed":0,"FFNN3":2,"CCNN4":2},{"day":197,"Observed":0,"FFNN3":2,"CCNN4":2},{"day":198,"Observed":0,"FFNN3":2,"CCNN4":2},{"day":199,"Observed":0,"FFNN3":2,"CCNN4":2},{"day":200,"Observed":0,"FFNN3":2,"CCNN4":2},
{"day":201,"Observed":0,"FFNN3":2,"CCNN4":2},{"day":202,"Observed":0,"FFNN3":2,"CCNN4":2},{"day":203,"Observed":0,"FFNN3":2,"CCNN4":2},{"day":204,"Observed":0,"FFNN3":2,"CCNN4":2},{"day":205,"Observed":0,"FFNN3":2,"CCNN4":2},
{"day":206,"Observed":0,"FFNN3":2,"CCNN4":2},{"day":207,"Observed":0,"FFNN3":2,"CCNN4":2},{"day":208,"Observed":0,"FFNN3":2,"CCNN4":2},{"day":209,"Observed":0,"FFNN3":2,"CCNN4":2},{"day":210,"Observed":0,"FFNN3":2,"CCNN4":2},
{"day":211,"Observed":0,"FFNN3":2,"CCNN4":2},{"day":212,"Observed":0,"FFNN3":2,"CCNN4":2},{"day":213,"Observed":0,"FFNN3":2,"CCNN4":2},{"day":214,"Observed":0,"FFNN3":2,"CCNN4":2},{"day":215,"Observed":0,"FFNN3":2,"CCNN4":2},
{"day":216,"Observed":0,"FFNN3":2,"CCNN4":2},{"day":217,"Observed":0,"FFNN3":2,"CCNN4":2},{"day":218,"Observed":0,"FFNN3":2,"CCNN4":2},{"day":219,"Observed":0,"FFNN3":2,"CCNN4":2},{"day":220,"Observed":0,"FFNN3":2,"CCNN4":2},
{"day":221,"Observed":0,"FFNN3":2,"CCNN4":2},{"day":222,"Observed":0,"FFNN3":2,"CCNN4":2},{"day":223,"Observed":0,"FFNN3":2,"CCNN4":2},{"day":224,"Observed":0,"FFNN3":2,"CCNN4":2},{"day":225,"Observed":0,"FFNN3":2,"CCNN4":2},
{"day":226,"Observed":0,"FFNN3":0,"CCNN4":0},{"day":227,"Observed":10,"FFNN3":0,"CCNN4":5},{"day":228,"Observed":44,"FFNN3":10,"CCNN4":20},{"day":229,"Observed":60,"FFNN3":30,"CCNN4":40},{"day":230,"Observed":84,"FFNN3":50,"CCNN4":60},
{"day":231,"Observed":78,"FFNN3":60,"CCNN4":70},{"day":232,"Observed":50,"FFNN3":70,"CCNN4":75},{"day":233,"Observed":60,"FFNN3":55,"CCNN4":65},{"day":234,"Observed":20,"FFNN3":60,"CCNN4":60},{"day":235,"Observed":76,"FFNN3":40,"CCNN4":50},
{"day":236,"Observed":90,"FFNN3":70,"CCNN4":80},{"day":237,"Observed":60,"FFNN3":80,"CCNN4":85},{"day":238,"Observed":108,"FFNN3":70,"CCNN4":80},{"day":239,"Observed":100,"FFNN3":90,"CCNN4":95},{"day":240,"Observed":80,"FFNN3":100,"CCNN4":100},
{"day":241,"Observed":30,"FFNN3":90,"CCNN4":100},{"day":242,"Observed":21,"FFNN3":20,"CCNN4":60},{"day":243,"Observed":120,"FFNN3":30,"CCNN4":50},{"day":244,"Observed":171,"FFNN3":120,"CCNN4":130},{"day":245,"Observed":171,"FFNN3":160,"CCNN4":170},
{"day":246,"Observed":211,"FFNN3":190,"CCNN4":200},{"day":247,"Observed":260,"FFNN3":230,"CCNN4":220},{"day":248,"Observed":170,"FFNN3":250,"CCNN4":260},{"day":249,"Observed":200,"FFNN3":200,"CCNN4":220},{"day":250,"Observed":260,"FFNN3":240,"CCNN4":250},
{"day":251,"Observed":488,"FFNN3":345,"CCNN4":290},{"day":252,"Observed":480,"FFNN3":280,"CCNN4":290},{"day":253,"Observed":155,"FFNN3":280,"CCNN4":290},{"day":254,"Observed":300,"FFNN3":200,"CCNN4":230},{"day":255,"Observed":180,"FFNN3":270,"CCNN4":260},
{"day":256,"Observed":150,"FFNN3":230,"CCNN4":200},{"day":257,"Observed":469,"FFNN3":270,"CCNN4":220},{"day":258,"Observed":155,"FFNN3":300,"CCNN4":310},{"day":259,"Observed":300,"FFNN3":200,"CCNN4":220},{"day":260,"Observed":320,"FFNN3":280,"CCNN4":290},
{"day":261,"Observed":250,"FFNN3":300,"CCNN4":300},{"day":262,"Observed":171,"FFNN3":260,"CCNN4":270},{"day":263,"Observed":150,"FFNN3":200,"CCNN4":220},{"day":264,"Observed":320,"FFNN3":250,"CCNN4":240},{"day":265,"Observed":300,"FFNN3":290,"CCNN4":300},
{"day":266,"Observed":280,"FFNN3":300,"CCNN4":310},{"day":267,"Observed":220,"FFNN3":270,"CCNN4":280},{"day":268,"Observed":250,"FFNN3":250,"CCNN4":260},{"day":269,"Observed":300,"FFNN3":260,"CCNN4":270},{"day":270,"Observed":409,"FFNN3":240,"CCNN4":300},
{"day":271,"Observed":385,"FFNN3":310,"CCNN4":270},{"day":272,"Observed":260,"FFNN3":320,"CCNN4":310},{"day":273,"Observed":250,"FFNN3":270,"CCNN4":280},{"day":274,"Observed":270,"FFNN3":260,"CCNN4":270},{"day":275,"Observed":300,"FFNN3":280,"CCNN4":290},
{"day":276,"Observed":290,"FFNN3":290,"CCNN4":300},{"day":277,"Observed":298,"FFNN3":280,"CCNN4":270},{"day":278,"Observed":488,"FFNN3":330,"CCNN4":300},{"day":279,"Observed":250,"FFNN3":340,"CCNN4":320},{"day":280,"Observed":220,"FFNN3":260,"CCNN4":280},
{"day":281,"Observed":260,"FFNN3":240,"CCNN4":250},{"day":282,"Observed":200,"FFNN3":250,"CCNN4":240},{"day":283,"Observed":125,"FFNN3":200,"CCNN4":220},{"day":284,"Observed":865,"FFNN3":230,"CCNN4":225},{"day":285,"Observed":27,"FFNN3":60,"CCNN4":150},
{"day":286,"Observed":260,"FFNN3":300,"CCNN4":280},{"day":287,"Observed":250,"FFNN3":250,"CCNN4":260},{"day":288,"Observed":200,"FFNN3":230,"CCNN4":240},{"day":289,"Observed":240,"FFNN3":260,"CCNN4":250},{"day":290,"Observed":230,"FFNN3":250,"CCNN4":260},
{"day":291,"Observed":190,"FFNN3":240,"CCNN4":250},{"day":292,"Observed":220,"FFNN3":230,"CCNN4":240},{"day":293,"Observed":258,"FFNN3":250,"CCNN4":260},{"day":294,"Observed":270,"FFNN3":270,"CCNN4":280},{"day":295,"Observed":300,"FFNN3":280,"CCNN4":290},
{"day":296,"Observed":330,"FFNN3":290,"CCNN4":300},{"day":297,"Observed":390,"FFNN3":300,"CCNN4":300},{"day":298,"Observed":300,"FFNN3":330,"CCNN4":330},{"day":299,"Observed":330,"FFNN3":300,"CCNN4":310},{"day":300,"Observed":258,"FFNN3":310,"CCNN4":300},
{"day":301,"Observed":187,"FFNN3":250,"CCNN4":260},{"day":302,"Observed":220,"FFNN3":230,"CCNN4":240},{"day":303,"Observed":108,"FFNN3":200,"CCNN4":190},{"day":304,"Observed":60,"FFNN3":130,"CCNN4":120},{"day":305,"Observed":29,"FFNN3":60,"CCNN4":60},
{"day":306,"Observed":40,"FFNN3":40,"CCNN4":50},{"day":307,"Observed":68,"FFNN3":60,"CCNN4":70},{"day":308,"Observed":120,"FFNN3":100,"CCNN4":110},{"day":309,"Observed":179,"FFNN3":160,"CCNN4":150},{"day":310,"Observed":139,"FFNN3":180,"CCNN4":170},
{"day":311,"Observed":200,"FFNN3":170,"CCNN4":180},{"day":312,"Observed":150,"FFNN3":180,"CCNN4":170},{"day":313,"Observed":100,"FFNN3":140,"CCNN4":150},{"day":314,"Observed":84,"FFNN3":120,"CCNN4":110},{"day":315,"Observed":150,"FFNN3":100,"CCNN4":100},
{"day":316,"Observed":203,"FFNN3":180,"CCNN4":170},{"day":317,"Observed":150,"FFNN3":200,"CCNN4":190},{"day":318,"Observed":219,"FFNN3":200,"CCNN4":210},{"day":319,"Observed":230,"FFNN3":240,"CCNN4":230},{"day":320,"Observed":200,"FFNN3":250,"CCNN4":240},
{"day":321,"Observed":155,"FFNN3":210,"CCNN4":200},{"day":322,"Observed":150,"FFNN3":180,"CCNN4":170},{"day":323,"Observed":160,"FFNN3":190,"CCNN4":180},{"day":324,"Observed":180,"FFNN3":200,"CCNN4":190},{"day":325,"Observed":210,"FFNN3":220,"CCNN4":210},
{"day":326,"Observed":230,"FFNN3":240,"CCNN4":230},{"day":327,"Observed":240,"FFNN3":250,"CCNN4":240},{"day":328,"Observed":200,"FFNN3":240,"CCNN4":230},{"day":329,"Observed":160,"FFNN3":210,"CCNN4":200},{"day":330,"Observed":150,"FFNN3":200,"CCNN4":190},
{"day":331,"Observed":140,"FFNN3":200,"CCNN4":185},{"day":332,"Observed":145,"FFNN3":195,"CCNN4":185},{"day":333,"Observed":150,"FFNN3":205,"CCNN4":190},{"day":334,"Observed":140,"FFNN3":200,"CCNN4":185},{"day":335,"Observed":150,"FFNN3":210,"CCNN4":195},
{"day":336,"Observed":155,"FFNN3":205,"CCNN4":190},{"day":337,"Observed":145,"FFNN3":200,"CCNN4":185},{"day":338,"Observed":150,"FFNN3":210,"CCNN4":190},{"day":339,"Observed":140,"FFNN3":205,"CCNN4":190},{"day":340,"Observed":145,"FFNN3":200,"CCNN4":185},
{"day":341,"Observed":150,"FFNN3":200,"CCNN4":190},{"day":342,"Observed":140,"FFNN3":195,"CCNN4":185},{"day":343,"Observed":135,"FFNN3":200,"CCNN4":180},{"day":344,"Observed":145,"FFNN3":205,"CCNN4":190},{"day":345,"Observed":150,"FFNN3":200,"CCNN4":185},
{"day":346,"Observed":140,"FFNN3":195,"CCNN4":180},{"day":347,"Observed":135,"FFNN3":200,"CCNN4":185},{"day":348,"Observed":140,"FFNN3":205,"CCNN4":190},{"day":349,"Observed":150,"FFNN3":200,"CCNN4":185},{"day":350,"Observed":145,"FFNN3":195,"CCNN4":180},
{"day":351,"Observed":130,"FFNN3":190,"CCNN4":175},{"day":352,"Observed":135,"FFNN3":200,"CCNN4":180},{"day":353,"Observed":140,"FFNN3":195,"CCNN4":185},{"day":354,"Observed":130,"FFNN3":190,"CCNN4":175},{"day":355,"Observed":135,"FFNN3":200,"CCNN4":180},
{"day":356,"Observed":140,"FFNN3":195,"CCNN4":185},{"day":357,"Observed":130,"FFNN3":190,"CCNN4":175},{"day":358,"Observed":125,"FFNN3":185,"CCNN4":170},{"day":359,"Observed":135,"FFNN3":195,"CCNN4":180},{"day":360,"Observed":140,"FFNN3":200,"CCNN4":185},
{"day":361,"Observed":130,"FFNN3":190,"CCNN4":175},{"day":362,"Observed":125,"FFNN3":185,"CCNN4":170},{"day":363,"Observed":135,"FFNN3":195,"CCNN4":180},{"day":364,"Observed":130,"FFNN3":190,"CCNN4":175},{"day":365,"Observed":120,"FFNN3":185,"CCNN4":170},
{"day":366,"Observed":125,"FFNN3":180,"CCNN4":175}
]
},
"columns": 9,
"spacing": 0,
"bounds": "flush",
"align": "each",
"center": true,
"resolve": {"scale": {"stroke": "independent", "fill": "independent", "shape": "independent", "strokeDash": "independent"}, "legend": {"stroke": "independent", "fill": "independent", "shape": "independent", "strokeDash": "independent"}},
"concat": [
{"width":44,"height":1,"data":{"values":[{}]},"mark":{"type":"rule","strokeDash":[6,3],"strokeWidth":1.2,"color":"#444"},"encoding":{"y":{"datum":1,"type":"quantitative","scale":{"domain":[0,1]},"axis":null}}},
{"width":72,"height":1,"data":{"values":[{}]},"mark":{"type":"rule","strokeDash":[6,3],"strokeWidth":1.2,"color":"#444"},"encoding":{"y":{"datum":1,"type":"quantitative","scale":{"domain":[0,1]},"axis":null}}},
{"width":344,"height":1,"data":{"values":[{}]},"mark":{"type":"rule","strokeDash":[6,3],"strokeWidth":1.2,"color":"#444"},"encoding":{"y":{"datum":1,"type":"quantitative","scale":{"domain":[0,1]},"axis":null}}},
{"width":20,"height":1,"data":{"values":[{}]},"mark":{"type":"rule","strokeDash":[6,3],"strokeWidth":1.2,"color":"#444"},"encoding":{"y":{"datum":1,"type":"quantitative","scale":{"domain":[0,1]},"axis":null}}},
{"width":1,"height":1,"data":{"values":[{}]},"mark":{"type":"rule","strokeDash":[3,3],"strokeWidth":2,"color":"#111"},"encoding":{"x":{"datum":0,"type":"quantitative","scale":{"domain":[0,1]},"axis":null}}},
{"width":74,"height":1,"data":{"values":[{}]},"mark":{"type":"rule","strokeDash":[6,3],"strokeWidth":1.2,"color":"#444"},"encoding":{"y":{"datum":1,"type":"quantitative","scale":{"domain":[0,1]},"axis":null}}},
{"width":214,"height":1,"data":{"values":[{}]},"mark":{"type":"rule","strokeDash":[6,3],"strokeWidth":1.2,"color":"#444"},"encoding":{"y":{"datum":1,"type":"quantitative","scale":{"domain":[0,1]},"axis":null}}},
{"width":27,"height":1,"data":{"values":[{}]},"mark":{"type":"rule","strokeDash":[6,3],"strokeWidth":1.2,"color":"#444"},"encoding":{"y":{"datum":1,"type":"quantitative","scale":{"domain":[0,1]},"axis":null}}},
{"width":1,"height":1,"data":{"values":[{}]},"mark":{"type":"rule","strokeDash":[3,3],"strokeWidth":2,"color":"#111"},"encoding":{"x":{"datum":0,"type":"quantitative","scale":{"domain":[0,1]},"axis":null}}},

{"width":44,"height":22,"data":{"values":[]},"mark":"point","encoding":{},"view":{"fill":"#1f4e79"}},
{"width":72,"height":22,"data":{"values":[]},"mark":"point","encoding":{}},
{"width":344,"height":22,"data":{"values":[]},"mark":"point","encoding":{}},
{"width":20,"height":22,"data":{"values":[]},"mark":"point","encoding":{}},
{"width":1,"height":22,"data":{"values":[{}]},"mark":{"type":"rule","strokeDash":[3,3],"strokeWidth":2,"color":"#111"},"encoding":{"x":{"datum":0,"type":"quantitative","scale":{"domain":[0,1]},"axis":null}}},
{"width":74,"height":22,"data":{"values":[]},"mark":"point","encoding":{}},
{"width":214,"height":22,"data":{"values":[]},"mark":"point","encoding":{}},
{"width":27,"height":22,"data":{"values":[]},"mark":"point","encoding":{}},
{"width":1,"height":22,"data":{"values":[{}]},"mark":{"type":"rule","strokeDash":[3,3],"strokeWidth":2,"color":"#111"},"encoding":{"x":{"datum":0,"type":"quantitative","scale":{"domain":[0,1]},"axis":null}}},

{"width":44,"height":221,"data":{"values":[{"name":"Jondhara"}]},"view":{"fill":"#1f4e79"},"mark":{"type":"text","angle":270,"color":"white","font":"Open Sans","fontSize":17,"fontWeight":"bold","align":"center","baseline":"middle","yOffset":16.5},"encoding":{"text":{"field":"name"}}},
{"width":72,"height":221,"data":{"values":[]},"mark":"point","encoding":{}},
{"width": 344, "height": 211, "data": {"name": "jon"}, "view": {"stroke": "#000", "strokeWidth": 1},
 "layer": [
  {"mark": {"type": "line", "strokeWidth": 1.2},
   "encoding": {
    "x": {"field": "day", "type": "quantitative", "title": "Time (day)", "scale": {"domain": [0.5, 366.5], "nice": false, "zero": false}, "axis": {"values": [1,31,61,91,121,151,181,211,241,271,301,331,361], "tickCount": 30, "labelOverlap": false, "labelFlush": false, "labelBound": false, "labelFontSize": 12, "labelPadding": 5, "titlePadding": 8, "titleFontSize": 13}},
    "y": {"field": "Observed", "type": "quantitative", "title": "SSC (mg/L)", "scale": {"domain": [0, 1500], "nice": false}, "axis": {"values": [0,300,600,900,1200,1500], "tickCount": 10, "labelOverlap": false, "labelPadding": 6, "titlePadding": 6, "titleFontSize": 11.5}},
    "stroke": {"datum": "Observed", "type": "nominal", "scale": {"domain": ["Observed", "FFNN8", "CCNN4"], "range": ["#7f7f7f", "#33c26b", "#cc33a0"]},
      "legend": {"orient": "none", "legendX": 27, "legendY": -10.5, "direction": "horizontal", "title": null, "symbolSize": 1600, "symbolType": "M-1,0H1", "symbolStrokeWidth": 2.2, "labelFont": "Liberation Serif", "labelFontWeight": "bold", "labelFontSize": 11.5, "labelColor": "#000", "labelOffset": 3, "columnPadding": 17, "padding": 0}},
    "strokeDash": {"datum": "Observed", "type": "nominal", "scale": {"domain": ["Observed", "FFNN8", "CCNN4"], "range": [[1.5, 1.5], [1, 0], [1, 0]]},
      "legend": {"orient": "none", "legendX": 27, "legendY": -10.5, "direction": "horizontal", "title": null, "symbolSize": 1600, "symbolType": "M-1,0H1", "symbolStrokeWidth": 2.2, "labelFont": "Liberation Serif", "labelFontWeight": "bold", "labelFontSize": 11.5, "labelColor": "#000", "labelOffset": 3, "columnPadding": 17, "padding": 0}}
   }},
  {"mark": {"type": "circle", "size": 25, "color": "#000", "opacity": 1},
   "encoding": {
    "x": {"field": "day", "type": "quantitative", "title": "Time (day)"},
    "y": {"field": "Observed", "type": "quantitative", "title": "SSC (mg/L)"}}},
  {"mark": {"type": "line", "strokeWidth": 2.2},
   "encoding": {
    "x": {"field": "day", "type": "quantitative", "title": "Time (day)"},
    "y": {"field": "FFNN8", "type": "quantitative", "title": "SSC (mg/L)"},
    "stroke": {"datum": "FFNN8", "type": "nominal"},
    "strokeDash": {"datum": "FFNN8", "type": "nominal"}}},
  {"mark": {"type": "line", "strokeWidth": 2},
   "encoding": {
    "x": {"field": "day", "type": "quantitative", "title": "Time (day)"},
    "y": {"field": "CCNN4", "type": "quantitative", "title": "SSC (mg/L)"},
    "stroke": {"datum": "CCNN4", "type": "nominal"},
    "strokeDash": {"datum": "CCNN4", "type": "nominal"}}}
 ]},
{"width":20,"height":221,"data":{"values":[]},"mark":"point","encoding":{}},
{"width":1,"height":221,"data":{"values":[{}]},"mark":{"type":"rule","strokeDash":[3,3],"strokeWidth":2,"color":"#111"},"encoding":{"x":{"datum":0,"type":"quantitative","scale":{"domain":[0,1]},"axis":null}}},
{"width":74,"height":221,"data":{"values":[]},"mark":"point","encoding":{}},
{"width": 212, "height": 221, "view": {"stroke": "#000", "strokeWidth": 1},
 "layer": [
  {"data": {"name": "yx1500"}, "mark": {"type": "line", "strokeWidth": 1.3},
   "encoding": {
    "x": {"field": "x", "type": "quantitative", "title": "Observed SSC (mg/L)", "scale": {"domain": [0, 1500], "nice": false}, "axis": {"values": [0,300,600,900,1200,1500], "tickCount": 10, "labelOverlap": false, "labelFlush": false, "labelPadding": 6, "titlePadding": 5, "titleFontSize": 13.5, "labelFontSize": 12.5}},
    "y": {"field": "y", "type": "quantitative", "title": "Predicted SSC (mg/L)", "scale": {"domain": [0, 1500], "nice": false}, "axis": {"values": [0,300,600,900,1200,1500], "tickCount": 10, "labelOverlap": false, "labelPadding": 4, "titlePadding": 7, "titleFontSize": 13.5, "labelFontSize": 12.5}},
    "stroke": {"datum": "Y=X", "type": "nominal"},
    "strokeDash": {"datum": "Y=X", "type": "nominal"}}},
  {"data": {"name": "jon"}, "transform": [{"fold": ["FFNN8", "CCNN4"], "as": ["model", "pred"]}],
   "mark": {"type": "point", "size": 45, "strokeWidth": 1, "opacity": 1},
   "encoding": {
    "x": {"field": "Observed", "type": "quantitative", "title": "Observed SSC (mg/L)"},
    "y": {"field": "pred", "type": "quantitative", "title": "Predicted SSC (mg/L)"},
    "stroke": {"field": "model", "type": "nominal", "scale": {"domain": ["FFNN8", "CCNN4", "Y=X"], "range": ["#5ccf83", "#e0349c", "#7f7f7f"]},
      "legend": {"orient": "none", "legendX": 8, "legendY": 10, "title": null, "direction": "vertical", "fillColor": "#f2f2f2", "padding": 6, "symbolSize": 60, "symbolStrokeWidth": 1.3, "symbolOffset": 15, "labelFont": "Liberation Serif", "labelFontWeight": "bold", "labelFontSize": 12, "labelColor": "#000", "labelOffset": 15, "rowPadding": 10}},
    "shape": {"field": "model", "type": "nominal", "scale": {"domain": ["FFNN8", "CCNN4", "Y=X"], "range": ["diamond", "square", "M-4.2,0H4.2"]},
      "legend": {"orient": "none", "legendX": 8, "legendY": 10, "title": null, "direction": "vertical", "fillColor": "#f2f2f2", "padding": 6, "symbolSize": 60, "symbolStrokeWidth": 1.3, "symbolOffset": 15, "labelFont": "Liberation Serif", "labelFontWeight": "bold", "labelFontSize": 12, "labelColor": "#000", "labelOffset": 15, "rowPadding": 10}},
    "fill": {"field": "model", "type": "nominal", "scale": {"domain": ["FFNN8", "CCNN4", "Y=X"], "range": ["rgba(255,255,255,0)", "rgba(236,90,180,0.35)", "rgba(255,255,255,0)"]},
      "legend": {"orient": "none", "legendX": 8, "legendY": 10, "title": null, "direction": "vertical", "fillColor": "#f2f2f2", "padding": 6, "symbolSize": 60, "symbolStrokeWidth": 1.3, "symbolOffset": 15, "labelFont": "Liberation Serif", "labelFontWeight": "bold", "labelFontSize": 12, "labelColor": "#000", "labelOffset": 15, "rowPadding": 10}},
    "strokeDash": {"field": "model", "type": "nominal", "scale": {"domain": ["FFNN8", "CCNN4", "Y=X"], "range": [[1, 0], [1, 0], [2, 2]]},
      "legend": {"orient": "none", "legendX": 8, "legendY": 10, "title": null, "direction": "vertical", "fillColor": "#f2f2f2", "padding": 6, "symbolSize": 60, "symbolStrokeWidth": 1.3, "symbolOffset": 15, "labelFont": "Liberation Serif", "labelFontWeight": "bold", "labelFontSize": 12, "labelColor": "#000", "labelOffset": 15, "rowPadding": 10}},
    "order": {"field": "model", "sort": "descending"}}},
  {"data": {"name": "jonTrend"}, "mark": {"type": "line", "color": "#000", "strokeWidth": 1.4},
   "encoding": {
    "x": {"field": "x", "type": "quantitative", "title": "Observed SSC (mg/L)"},
    "y": {"field": "y", "type": "quantitative", "title": "Predicted SSC (mg/L)"},
    "detail": {"field": "model", "type": "nominal"}}},
  {"data": {"values": [{"t": "R² = 0.5971"}]}, "mark": {"type": "text", "align": "right", "baseline": "middle", "font": "Lato", "fontSize": 14.5, "color": "#404040"},
   "encoding": {"x": {"datum": 1430, "type": "quantitative", "title": "Observed SSC (mg/L)"}, "y": {"datum": 244, "type": "quantitative", "title": "Predicted SSC (mg/L)"}, "text": {"field": "t"}}},
  {"data": {"values": [{"t": "R² = 0.6627"}]}, "mark": {"type": "text", "align": "right", "baseline": "middle", "font": "Lato", "fontSize": 14.5, "color": "#404040"},
   "encoding": {"x": {"datum": 1430, "type": "quantitative", "title": "Observed SSC (mg/L)"}, "y": {"datum": 88, "type": "quantitative", "title": "Predicted SSC (mg/L)"}, "text": {"field": "t"}}}
 ]},
{"width":27,"height":221,"data":{"values":[]},"mark":"point","encoding":{}},
{"width":1,"height":221,"data":{"values":[{}]},"mark":{"type":"rule","strokeDash":[3,3],"strokeWidth":2,"color":"#111"},"encoding":{"x":{"datum":0,"type":"quantitative","scale":{"domain":[0,1]},"axis":null}}},

{"width":44,"height":55,"data":{"values":[]},"mark":"point","encoding":{},"view":{"fill":"#1f4e79"}},
{"width":72,"height":55,"data":{"values":[]},"mark":"point","encoding":{}},
{"width":344,"height":55,"data":{"values":[]},"mark":"point","encoding":{}},
{"width":20,"height":55,"data":{"values":[]},"mark":"point","encoding":{}},
{"width":1,"height":55,"data":{"values":[{}]},"mark":{"type":"rule","strokeDash":[3,3],"strokeWidth":2,"color":"#111"},"encoding":{"x":{"datum":0,"type":"quantitative","scale":{"domain":[0,1]},"axis":null}}},
{"width":74,"height":55,"data":{"values":[]},"mark":"point","encoding":{}},
{"width":214,"height":55,"data":{"values":[]},"mark":"point","encoding":{}},
{"width":27,"height":55,"data":{"values":[]},"mark":"point","encoding":{}},
{"width":1,"height":55,"data":{"values":[{}]},"mark":{"type":"rule","strokeDash":[3,3],"strokeWidth":2,"color":"#111"},"encoding":{"x":{"datum":0,"type":"quantitative","scale":{"domain":[0,1]},"axis":null}}},

{"width":44,"height":3,"data":{"values":[]},"mark":"point","encoding":{}},
{"width":72,"height":3,"data":{"values":[{}]},"mark":{"type":"rule","strokeDash":[6,3],"strokeWidth":1.2,"color":"#444"},"encoding":{"y":{"datum":1,"type":"quantitative","scale":{"domain":[0,1]},"axis":null}}},
{"width":344,"height":3,"data":{"values":[{}]},"mark":{"type":"rule","strokeDash":[6,3],"strokeWidth":1.2,"color":"#444"},"encoding":{"y":{"datum":1,"type":"quantitative","scale":{"domain":[0,1]},"axis":null}}},
{"width":20,"height":3,"data":{"values":[{}]},"mark":{"type":"rule","strokeDash":[6,3],"strokeWidth":1.2,"color":"#444"},"encoding":{"y":{"datum":1,"type":"quantitative","scale":{"domain":[0,1]},"axis":null}}},
{"width":1,"height":3,"data":{"values":[{}]},"mark":{"type":"rule","strokeDash":[3,3],"strokeWidth":2,"color":"#111"},"encoding":{"x":{"datum":0,"type":"quantitative","scale":{"domain":[0,1]},"axis":null}}},
{"width":74,"height":3,"data":{"values":[{}]},"mark":{"type":"rule","strokeDash":[6,3],"strokeWidth":1.2,"color":"#444"},"encoding":{"y":{"datum":1,"type":"quantitative","scale":{"domain":[0,1]},"axis":null}}},
{"width":214,"height":3,"data":{"values":[{}]},"mark":{"type":"rule","strokeDash":[6,3],"strokeWidth":1.2,"color":"#444"},"encoding":{"y":{"datum":1,"type":"quantitative","scale":{"domain":[0,1]},"axis":null}}},
{"width":27,"height":3,"data":{"values":[{}]},"mark":{"type":"rule","strokeDash":[6,3],"strokeWidth":1.2,"color":"#444"},"encoding":{"y":{"datum":1,"type":"quantitative","scale":{"domain":[0,1]},"axis":null}}},
{"width":1,"height":3,"data":{"values":[{}]},"mark":{"type":"rule","strokeDash":[3,3],"strokeWidth":2,"color":"#111"},"encoding":{"x":{"datum":0,"type":"quantitative","scale":{"domain":[0,1]},"axis":null}}},

{"width":44,"height":29,"data":{"values":[]},"mark":"point","encoding":{},"view":{"fill":"#660066"}},
{"width":72,"height":29,"data":{"values":[]},"mark":"point","encoding":{}},
{"width":344,"height":29,"data":{"values":[]},"mark":"point","encoding":{}},
{"width":20,"height":29,"data":{"values":[]},"mark":"point","encoding":{}},
{"width":1,"height":29,"data":{"values":[{}]},"mark":{"type":"rule","strokeDash":[3,3],"strokeWidth":2,"color":"#111"},"encoding":{"x":{"datum":0,"type":"quantitative","scale":{"domain":[0,1]},"axis":null}}},
{"width":74,"height":29,"data":{"values":[]},"mark":"point","encoding":{}},
{"width":214,"height":29,"data":{"values":[]},"mark":"point","encoding":{}},
{"width":27,"height":29,"data":{"values":[]},"mark":"point","encoding":{}},
{"width":1,"height":29,"data":{"values":[{}]},"mark":{"type":"rule","strokeDash":[3,3],"strokeWidth":2,"color":"#111"},"encoding":{"x":{"datum":0,"type":"quantitative","scale":{"domain":[0,1]},"axis":null}}},

{"width":44,"height":210,"data":{"values":[{"name":"Simga"}]},"view":{"fill":"#660066"},"mark":{"type":"text","angle":270,"color":"white","font":"Open Sans","fontSize":17,"fontWeight":"bold","align":"center","baseline":"middle","yOffset":31.5},"encoding":{"text":{"field":"name"}}},
{"width":72,"height":210,"data":{"values":[]},"mark":"point","encoding":{}},
{"width": 344, "height": 210, "data": {"name": "sim"}, "view": {"stroke": "#000", "strokeWidth": 1},
 "layer": [
  {"mark": {"type": "line", "strokeWidth": 1.2},
   "encoding": {
    "x": {"field": "day", "type": "quantitative", "title": "Time (day)", "scale": {"domain": [0.5, 366.5], "nice": false, "zero": false}, "axis": {"values": [1,31,61,91,121,151,181,211,241,271,301,331,361], "tickCount": 30, "labelOverlap": false, "labelFlush": false, "labelBound": false, "labelFontSize": 12, "labelPadding": 5, "titlePadding": 8, "titleFontSize": 13}},
    "y": {"field": "Observed", "type": "quantitative", "title": "SSC (mg/L)", "scale": {"domain": [0, 1000], "nice": false}, "axis": {"values": [0,200,400,600,800,1000], "tickCount": 10, "labelOverlap": false, "labelPadding": 6, "titlePadding": 6, "titleFontSize": 11.5}},
    "stroke": {"datum": "Observed", "type": "nominal", "scale": {"domain": ["Observed", "FFNN3", "CCNN4"], "range": ["#7f7f7f", "#33c26b", "#cc33a0"]},
      "legend": {"orient": "none", "legendX": 27, "legendY": -10.5, "direction": "horizontal", "title": null, "symbolSize": 1600, "symbolType": "M-1,0H1", "symbolStrokeWidth": 2.2, "labelFont": "Liberation Serif", "labelFontWeight": "bold", "labelFontSize": 11.5, "labelColor": "#000", "labelOffset": 3, "columnPadding": 17, "padding": 0}},
    "strokeDash": {"datum": "Observed", "type": "nominal", "scale": {"domain": ["Observed", "FFNN3", "CCNN4"], "range": [[1.5, 1.5], [1, 0], [1, 0]]},
      "legend": {"orient": "none", "legendX": 27, "legendY": -10.5, "direction": "horizontal", "title": null, "symbolSize": 1600, "symbolType": "M-1,0H1", "symbolStrokeWidth": 2.2, "labelFont": "Liberation Serif", "labelFontWeight": "bold", "labelFontSize": 11.5, "labelColor": "#000", "labelOffset": 3, "columnPadding": 17, "padding": 0}}
   }},
  {"mark": {"type": "circle", "size": 25, "color": "#000", "opacity": 1},
   "encoding": {
    "x": {"field": "day", "type": "quantitative", "title": "Time (day)"},
    "y": {"field": "Observed", "type": "quantitative", "title": "SSC (mg/L)"}}},
  {"mark": {"type": "line", "strokeWidth": 2.2},
   "encoding": {
    "x": {"field": "day", "type": "quantitative", "title": "Time (day)"},
    "y": {"field": "FFNN3", "type": "quantitative", "title": "SSC (mg/L)"},
    "stroke": {"datum": "FFNN3", "type": "nominal"},
    "strokeDash": {"datum": "FFNN3", "type": "nominal"}}},
  {"mark": {"type": "line", "strokeWidth": 2},
   "encoding": {
    "x": {"field": "day", "type": "quantitative", "title": "Time (day)"},
    "y": {"field": "CCNN4", "type": "quantitative", "title": "SSC (mg/L)"},
    "stroke": {"datum": "CCNN4", "type": "nominal"},
    "strokeDash": {"datum": "CCNN4", "type": "nominal"}}}
 ]},
{"width":20,"height":210,"data":{"values":[]},"mark":"point","encoding":{}},
{"width":1,"height":210,"data":{"values":[{}]},"mark":{"type":"rule","strokeDash":[3,3],"strokeWidth":2,"color":"#111"},"encoding":{"x":{"datum":0,"type":"quantitative","scale":{"domain":[0,1]},"axis":null}}},
{"width":74,"height":210,"data":{"values":[]},"mark":"point","encoding":{}},
{"width": 214, "height": 209, "view": {"stroke": "#000", "strokeWidth": 1},
 "layer": [
  {"data": {"name": "yx1000"}, "mark": {"type": "line", "strokeWidth": 1.3, "strokeDash": [2, 2], "color": "#7f7f7f"},
   "encoding": {
    "x": {"field": "x", "type": "quantitative", "title": "Observed SSC (mg/L)", "scale": {"domain": [0, 1000], "nice": false}, "axis": {"values": [0,200,400,600,800,1000], "tickCount": 10, "labelOverlap": false, "labelFlush": false, "labelPadding": 6, "titlePadding": 5, "titleFontSize": 13.5, "labelFontSize": 12.5}},
    "y": {"field": "y", "type": "quantitative", "title": "Predicted SSC (mg/L)", "scale": {"domain": [0, 1000], "nice": false}, "axis": {"values": [0,200,400,600,800,1000], "tickCount": 10, "labelOverlap": false, "labelPadding": 4, "titlePadding": 7, "titleFontSize": 13.5, "labelFontSize": 12.5}}}},
  {"data": {"name": "sim"}, "transform": [{"fold": ["FFNN3", "CCNN4"], "as": ["model", "pred"]}],
   "mark": {"type": "point", "size": 45, "strokeWidth": 1, "opacity": 1},
   "encoding": {
    "x": {"field": "Observed", "type": "quantitative", "title": "Observed SSC (mg/L)"},
    "y": {"field": "pred", "type": "quantitative", "title": "Predicted SSC (mg/L)"},
    "stroke": {"field": "model", "type": "nominal", "scale": {"domain": ["FFNN3", "CCNN4"], "range": ["#5ccf83", "#e0349c"]},
      "legend": {"orient": "none", "legendX": 9, "legendY": 10, "title": null, "direction": "vertical", "fillColor": "#f2f2f2", "padding": 6, "symbolSize": 60, "symbolStrokeWidth": 1.3, "symbolOffset": 15, "labelFont": "Liberation Serif", "labelFontWeight": "bold", "labelFontSize": 12, "labelColor": "#000", "labelOffset": 15, "rowPadding": 19}},
    "shape": {"field": "model", "type": "nominal", "scale": {"domain": ["FFNN3", "CCNN4"], "range": ["diamond", "square"]},
      "legend": {"orient": "none", "legendX": 9, "legendY": 10, "title": null, "direction": "vertical", "fillColor": "#f2f2f2", "padding": 6, "symbolSize": 60, "symbolStrokeWidth": 1.3, "symbolOffset": 15, "labelFont": "Liberation Serif", "labelFontWeight": "bold", "labelFontSize": 12, "labelColor": "#000", "labelOffset": 15, "rowPadding": 19}},
    "fill": {"field": "model", "type": "nominal", "scale": {"domain": ["FFNN3", "CCNN4"], "range": ["rgba(255,255,255,0)", "rgba(236,90,180,0.35)"]},
      "legend": {"orient": "none", "legendX": 9, "legendY": 10, "title": null, "direction": "vertical", "fillColor": "#f2f2f2", "padding": 6, "symbolSize": 60, "symbolStrokeWidth": 1.3, "symbolOffset": 15, "labelFont": "Liberation Serif", "labelFontWeight": "bold", "labelFontSize": 12, "labelColor": "#000", "labelOffset": 15, "rowPadding": 19}},
    "order": {"field": "model", "sort": "descending"}}},
  {"data": {"name": "simTrend"}, "mark": {"type": "line", "color": "#000", "strokeWidth": 1.4},
   "encoding": {
    "x": {"field": "x", "type": "quantitative", "title": "Observed SSC (mg/L)"},
    "y": {"field": "y", "type": "quantitative", "title": "Predicted SSC (mg/L)"},
    "detail": {"field": "model", "type": "nominal"}}},
  {"data": {"values": [{"t": "R² = 0.7829"}]}, "mark": {"type": "text", "align": "right", "baseline": "middle", "font": "Lato", "fontSize": 14.5, "color": "#404040"},
   "encoding": {"x": {"datum": 970, "type": "quantitative", "title": "Observed SSC (mg/L)"}, "y": {"datum": 153, "type": "quantitative", "title": "Predicted SSC (mg/L)"}, "text": {"field": "t"}}},
  {"data": {"values": [{"t": "R² = 0.7854"}]}, "mark": {"type": "text", "align": "right", "baseline": "middle", "font": "Lato", "fontSize": 14.5, "color": "#404040"},
   "encoding": {"x": {"datum": 970, "type": "quantitative", "title": "Observed SSC (mg/L)"}, "y": {"datum": 66, "type": "quantitative", "title": "Predicted SSC (mg/L)"}, "text": {"field": "t"}}}
 ]},
{"width":27,"height":210,"data":{"values":[]},"mark":"point","encoding":{}},
{"width":1,"height":210,"data":{"values":[{}]},"mark":{"type":"rule","strokeDash":[3,3],"strokeWidth":2,"color":"#111"},"encoding":{"x":{"datum":0,"type":"quantitative","scale":{"domain":[0,1]},"axis":null}}},

{"width":44,"height":92,"data":{"values":[]},"mark":"point","encoding":{},"view":{"fill":"#660066"}},
{"width":72,"height":92,"data":{"values":[]},"mark":"point","encoding":{}},
{"width":344,"height":92,"data":{"values":[]},"mark":"point","encoding":{}},
{"width":20,"height":92,"data":{"values":[]},"mark":"point","encoding":{}},
{"width":1,"height":92,"data":{"values":[{}]},"mark":{"type":"rule","strokeDash":[3,3],"strokeWidth":2,"color":"#111"},"encoding":{"x":{"datum":0,"type":"quantitative","scale":{"domain":[0,1]},"axis":null}}},
{"width":74,"height":92,"data":{"values":[]},"mark":"point","encoding":{}},
{"width":214,"height":92,"data":{"values":[]},"mark":"point","encoding":{}},
{"width":27,"height":92,"data":{"values":[]},"mark":"point","encoding":{}},
{"width":1,"height":92,"data":{"values":[{}]},"mark":{"type":"rule","strokeDash":[3,3],"strokeWidth":2,"color":"#111"},"encoding":{"x":{"datum":0,"type":"quantitative","scale":{"domain":[0,1]},"axis":null}}},

{"width":44,"height":1,"data":{"values":[]},"mark":"point","encoding":{}},
{"width":72,"height":1,"data":{"values":[{}]},"mark":{"type":"rule","strokeDash":[6,3],"strokeWidth":1.2,"color":"#444"},"encoding":{"y":{"datum":1,"type":"quantitative","scale":{"domain":[0,1]},"axis":null}}},
{"width":344,"height":1,"data":{"values":[{}]},"mark":{"type":"rule","strokeDash":[6,3],"strokeWidth":1.2,"color":"#444"},"encoding":{"y":{"datum":1,"type":"quantitative","scale":{"domain":[0,1]},"axis":null}}},
{"width":20,"height":1,"data":{"values":[{}]},"mark":{"type":"rule","strokeDash":[6,3],"strokeWidth":1.2,"color":"#444"},"encoding":{"y":{"datum":1,"type":"quantitative","scale":{"domain":[0,1]},"axis":null}}},
{"width":1,"height":1,"data":{"values":[{}]},"mark":{"type":"rule","strokeDash":[3,3],"strokeWidth":2,"color":"#111"},"encoding":{"x":{"datum":0,"type":"quantitative","scale":{"domain":[0,1]},"axis":null}}},
{"width":74,"height":1,"data":{"values":[{}]},"mark":{"type":"rule","strokeDash":[6,3],"strokeWidth":1.2,"color":"#444"},"encoding":{"y":{"datum":1,"type":"quantitative","scale":{"domain":[0,1]},"axis":null}}},
{"width":214,"height":1,"data":{"values":[{}]},"mark":{"type":"rule","strokeDash":[6,3],"strokeWidth":1.2,"color":"#444"},"encoding":{"y":{"datum":1,"type":"quantitative","scale":{"domain":[0,1]},"axis":null}}},
{"width":27,"height":1,"data":{"values":[{}]},"mark":{"type":"rule","strokeDash":[6,3],"strokeWidth":1.2,"color":"#444"},"encoding":{"y":{"datum":1,"type":"quantitative","scale":{"domain":[0,1]},"axis":null}}},
{"width":1,"height":1,"data":{"values":[{}]},"mark":{"type":"rule","strokeDash":[3,3],"strokeWidth":2,"color":"#111"},"encoding":{"x":{"datum":0,"type":"quantitative","scale":{"domain":[0,1]},"axis":null}}}
]
}
